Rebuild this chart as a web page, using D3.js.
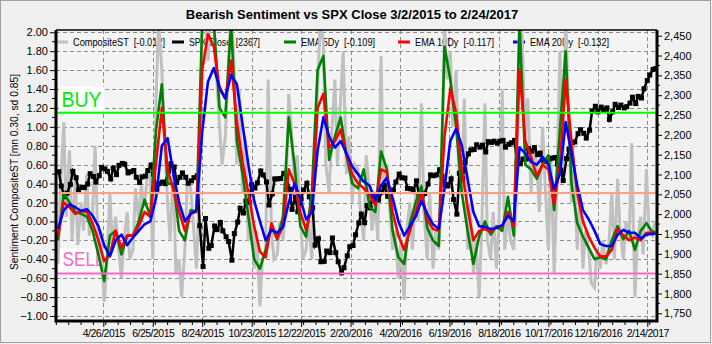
<!DOCTYPE html>
<html>
<head>
<meta charset="utf-8">
<script src="https://cdn.jsdelivr.net/npm/d3@7"></script>
<style>
  body { margin: 0; background: #f0f0f0; }
  text { font-family: Arial, "Liberation Sans", sans-serif; }
</style>
</head>
<body>
<svg id="chart" width="712" height="344"></svg>
<script>
// ---- data ----
const chartTitle = "Bearish Sentiment vs SPX Close 3/2/2015 to 2/24/2017";
const yTitle = "Sentiment CompositeST [mn 0.30, sd 0.85]";
const seriesNames = ["CompositeST", "SPX Close", "EMA 5Dy", "EMA 10Dy", "EMA 20Dy"];
const legendValues = ["[-0.012]", "[2367]", "[-0.109]", "[-0.117]", "[-0.132]"];
const seriesColors = ["#c0c0c0", "#000000", "#008000", "#ff0000", "#0000ff"];

const leftTicks = [-1.0, -0.8, -0.6, -0.4, -0.2, 0.0, 0.2, 0.4, 0.6, 0.8, 1.0, 1.2, 1.4, 1.6, 1.8, 2.0];
const rightTicks = [1750, 1800, 1850, 1900, 1950, 2000, 2050, 2100, 2150, 2200, 2250, 2300, 2350, 2400, 2450];
const xTickLabels = ["4/26/2015", "6/25/2015", "8/24/2015", "10/23/2015", "12/22/2015", "2/20/2016",
  "4/20/2016", "6/19/2016", "8/18/2016", "10/17/2016", "12/16/2016", "2/14/2017"];

const buyLevel = 1.15, meanLevel = 0.30, sellLevel = -0.55;

// weekly EMA values, one per week starting Mon 3/2/2015, last one is 2/24/2017
const ema5 = [
  -0.20, 0.30, 0.20, 0.10, 0.08, 0.05, -0.10, -0.35, -0.63, -0.15,
  -0.10, -0.35, -0.15, -0.15, 0.00, 0.23, 0.05, 0.97, 1.45, 0.40,
  0.40, -0.10, -0.20, 0.12, 0.10, 2.10, 2.20, 2.10, 1.20, 1.10,
  2.10, 0.85, 0.50, 0.05, -0.40, -0.50, -0.30, -0.05, -0.19, 0.05,
  1.10, 0.60, -0.05, -0.16, 0.30, 1.60, 1.75, 0.65, 0.90, 1.10,
  0.70, 0.40, 0.35, 0.55, 0.15, 0.10, 0.74, 0.55, -0.10, -0.38,
  -0.45, -0.02, 0.20, 0.37, -0.07, -0.20, -0.26, 1.85, 1.50, 1.00,
  0.30, -0.10, -0.45, -0.16, 0.00, -0.14, -0.05, -0.10, 0.26, -0.15,
  2.10, 0.60, 0.55, 0.45, 0.60, 0.70, 0.12, 0.97, 1.80, 0.40,
  -0.02, -0.16, -0.28, -0.40, -0.38, -0.40, -0.20, -0.05, -0.19, -0.10,
  -0.30, -0.10, -0.02, -0.11, -0.109
];
const ema10 = [
  -0.16, 0.20, 0.15, 0.08, 0.11, 0.10, -0.02, -0.20, -0.42, -0.35,
  -0.10, -0.28, -0.15, -0.15, -0.05, 0.10, 0.05, 0.62, 1.20, 0.55,
  0.33, 0.10, -0.10, 0.09, 0.10, 1.60, 1.98, 1.85, 1.40, 1.30,
  1.70, 1.05, 0.62, 0.30, -0.05, -0.32, -0.38, -0.02, -0.18, -0.05,
  0.55, 0.40, 0.10, -0.09, 0.15, 1.20, 1.35, 0.78, 0.85, 0.97,
  0.70, 0.50, 0.40, 0.35, 0.28, 0.17, 0.55, 0.52, 0.10, -0.15,
  -0.30, -0.10, 0.10, 0.30, 0.02, -0.08, -0.10, 0.90, 1.40, 1.15,
  0.55, 0.15, -0.20, -0.10, -0.08, -0.11, -0.06, -0.05, 0.10, -0.05,
  1.60, 0.85, 0.68, 0.48, 0.60, 0.55, 0.18, 0.60, 1.50, 0.85,
  0.30, 0.00, -0.16, -0.28, -0.37, -0.37, -0.30, -0.08, -0.15, -0.20,
  -0.17, -0.20, -0.12, -0.12, -0.117
];
const ema20 = [
  -0.08, 0.12, 0.18, 0.15, 0.11, 0.13, 0.06, -0.05, -0.25, -0.37,
  -0.20, -0.14, -0.25, -0.17, -0.10, -0.03, 0.00, 0.25, 0.80, 0.88,
  0.50, 0.20, 0.00, 0.08, 0.12, 0.95, 1.48, 1.62, 1.42, 1.30,
  1.55, 1.45, 1.02, 0.60, 0.22, 0.00, -0.20, -0.09, -0.12, -0.06,
  0.20, 0.40, 0.25, 0.02, 0.10, 0.75, 1.10, 0.90, 0.78, 0.85,
  0.72, 0.58, 0.50, 0.42, 0.38, 0.22, 0.38, 0.46, 0.25, 0.00,
  -0.15, -0.05, 0.05, 0.22, 0.08, -0.03, -0.08, 0.35, 0.85, 0.98,
  0.80, 0.45, 0.10, -0.05, -0.06, -0.08, -0.07, -0.04, 0.06, 0.00,
  0.78, 0.72, 0.63, 0.60, 0.68, 0.60, 0.34, 0.50, 1.05, 0.72,
  0.38, 0.12, 0.02, -0.10, -0.24, -0.26, -0.26, -0.14, -0.09, -0.12,
  -0.12, -0.18, -0.14, -0.13, -0.132
];

// CompositeST, two readings per week (Mon, Thu), last one is 2/24/2017
const composite = [
  -0.45, 0.35, 1.05, 0.05, 0.75, -0.20, 0.45, -0.25, 0.20, -0.10,
  0.50, -0.15, 0.10, 0.80, -0.40, -0.10, -0.85, -0.50, 0.30, -0.30,
  0.05, -0.25, -0.60, -0.20, 0.10, -0.40, -0.30, 0.35, 0.00, 0.40,
  0.15, 0.45, 0.55, -0.40, 1.30, 2.10, 1.60, 0.90, 0.20, -0.20,
  0.55, -0.55, -0.40, -0.80, -0.30, 0.45, 0.35, 0.00, -0.50, 0.20,
  2.10, 2.30, 1.70, 2.20, 2.20, 1.60, 1.00, 0.60, 0.90, 1.50,
  2.20, 1.80, 0.60, 1.40, 0.30, 0.90, -0.20, 0.40, -0.50, -0.10,
  -0.90, -0.40, -0.30, 1.50, -0.10, -0.40, -0.35, 0.00, -0.20, 0.10,
  1.35, 1.00, 0.35, 0.70, 0.10, -0.40, -0.30, 0.00, -0.40, 0.55,
  1.40, 2.10, 1.90, 0.60, 0.30, 0.90, 1.50, 0.60, 1.30, 1.80,
  0.50, 0.90, 0.20, 0.60, 0.55, 0.10, -0.20, 0.70, 0.30, -0.10,
  0.20, -0.20, 1.75, 0.30, 0.60, 0.20, -0.30, -0.10, -0.60, -0.20,
  -0.83, -0.10, 0.20, -0.30, 0.30, 0.00, 1.25, 0.10, -0.40, 0.30,
  -0.50, -0.10, -0.30, 0.20, 2.10, 1.50, 1.80, 1.00, 1.60, 0.60,
  0.30, 1.30, -0.30, 0.20, -0.55, -0.20, -0.80, -0.10, 1.25, -0.20,
  -0.40, 0.10, -0.50, 0.00, 1.40, -0.30, 0.10, -0.20, -0.30, 0.20,
  2.20, 2.00, 0.90, 1.30, 0.30, 0.80, 0.60, 0.10, 1.00, 0.40,
  -0.30, 0.70, -0.55, 0.30, 1.80, 0.40, 2.20, 1.30, 0.20, 0.60,
  -0.30, 0.30, -0.50, -0.10, -0.30, -0.65, -0.70, -0.30, -0.50, -0.20,
  -0.45, -0.30, 0.30, -0.40, 0.45, -0.10, -0.40, 0.00, -0.20, 0.83,
  -0.80, -0.20, 0.05, -0.35, 0.55, -0.10, -0.15, -0.01, -0.012
];

// SPX close, two per week (Tue, Fri)
const spxClose = [
  2107, 2071, 2044, 2053, 2075, 2108, 2092, 2061, 2068, 2067,
  2076, 2102, 2095, 2081, 2097, 2118, 2114, 2108, 2089, 2116,
  2100, 2123, 2128, 2126, 2104, 2107, 2110, 2093, 2080, 2094,
  2096, 2110, 2124, 2101, 2063, 2077, 2081, 2077, 2108, 2127,
  2119, 2080, 2093, 2104, 2093, 2078, 2084, 2092, 2097, 1971,
  1868, 1989, 1914, 1921, 1970, 1961, 1979, 1958, 1943, 1931,
  1884, 1951, 1980, 2015, 2003, 2033, 2030, 2075, 2066, 2079,
  2109, 2099, 2081, 2023, 2051, 2089, 2089, 2090, 2103, 2092,
  2063, 2012, 2043, 2006, 2038, 2061, 2078, 2044,
  2016, 1922, 1938, 1880, 1881, 1907, 1903, 1940, 1903, 1880,
  1852, 1865, 1895, 1918, 1921, 1948, 1978, 2000, 1979, 2022,
  2016, 2050, 2049, 2036, 2056, 2073, 2045, 2048, 2061, 2081,
  2101, 2092, 2091, 2065, 2064, 2057, 2084, 2047, 2048, 2052,
  2076, 2099, 2097, 2099, 2112, 2096, 2075, 2071, 2089, 2037,
  2000, 2103, 2089, 2130, 2152, 2162, 2163, 2175, 2169, 2174,
  2157, 2183, 2181, 2184, 2179, 2184, 2186, 2169, 2176, 2180,
  2186, 2128, 2127, 2139, 2139, 2165, 2159, 2168, 2150, 2154,
  2136, 2133, 2139, 2141, 2143, 2126, 2111, 2085, 2140, 2164,
  2180, 2182, 2203, 2213, 2204, 2192, 2212, 2260, 2272, 2258,
  2270, 2264, 2268, 2239,
  2258, 2277, 2269, 2275, 2268, 2271, 2280, 2295, 2279, 2297,
  2293, 2316, 2337, 2351, 2365, 2367
];

// ---- dates ----
const DAY = 864e5;
const firstMonday = Date.UTC(2015, 2, 2);
const lastDay = new Date(Date.UTC(2017, 1, 24));
const weekDates = d3.range(104).map(i => new Date(firstMonday + 7 * i * DAY)).concat([lastDay]);
const compDates = d3.range(104).flatMap(i => [new Date(firstMonday + 7 * i * DAY), new Date(firstMonday + (7 * i + 3) * DAY)]).concat([lastDay]);
const spxDates = d3.range(104).flatMap(i => [new Date(firstMonday + (7 * i + 1) * DAY), new Date(firstMonday + (7 * i + 4) * DAY)]);
const parseMDY = s => { const [m, d, y] = s.split("/").map(Number); return new Date(Date.UTC(y, m - 1, d)); };
const tickDates = xTickLabels.map(parseMDY);

// ---- layout ----
const svg = d3.select("#chart");
const W = 712, H = 344;
const plot = { left: 56, right: 657, top: 30, bottom: 321 };

const x = d3.scaleUtc()
  .domain([new Date(Date.UTC(2015, 1, 27, 14)), new Date(Date.UTC(2017, 1, 25, 19))])
  .range([plot.left, plot.right]);
const yL = d3.scaleLinear().domain([-1.053, 2.024]).range([plot.bottom, plot.top]);
const yR = d3.scaleLinear().domain([1730.6, 2464.4]).range([plot.bottom, plot.top]);

svg.append("rect").attr("width", W).attr("height", H).attr("fill", "#f0f0f0");
svg.append("rect").attr("x", 0.5).attr("y", 0.5).attr("width", W - 2).attr("height", H - 2)
  .attr("fill", "none").attr("stroke", "#a0a0a0");
svg.append("rect").attr("x", plot.left).attr("y", plot.top)
  .attr("width", plot.right - plot.left).attr("height", plot.bottom - plot.top).attr("fill", "#f4f4f4");

svg.append("defs").append("clipPath").attr("id", "clip")
  .append("rect").attr("x", plot.left).attr("y", plot.top)
  .attr("width", plot.right - plot.left).attr("height", plot.bottom - plot.top);

// grid
const grid = svg.append("g").attr("stroke", "#8c8c8c").attr("stroke-dasharray", "4,3").attr("stroke-width", 1);
grid.selectAll(".h").data(leftTicks).join("line")
  .attr("x1", plot.left).attr("x2", plot.right)
  .attr("y1", d => Math.round(yL(d)) + 0.5).attr("y2", d => Math.round(yL(d)) + 0.5);
grid.selectAll(".v").data(tickDates).join("line")
  .attr("y1", plot.top).attr("y2", plot.bottom)
  .attr("x1", d => Math.round(x(d)) + 0.5).attr("x2", d => Math.round(x(d)) + 0.5);

// legend (sits under the data)
const legendX = [56, 172, 284, 398, 513];
const legendW = [92, 71, 74, 79, 79];
const legend = svg.append("g").attr("font-size", 11);
seriesNames.forEach((name, i) => {
  legend.append("line").attr("x1", legendX[i]).attr("x2", legendX[i] + 12)
    .attr("y1", 42).attr("y2", 42).attr("stroke", seriesColors[i]).attr("stroke-width", 3);
  legend.append("text").attr("x", legendX[i] + 17).attr("y", 46)
    .attr("textLength", legendW[i]).attr("lengthAdjust", "spacingAndGlyphs")
    .style("white-space", "pre").text(name + "  " + legendValues[i]);
});

// BUY / SELL labels (under the data)
const tagBuy = svg.append("g");
tagBuy.append("rect").attr("x", 59).attr("y", yL(buyLevel) - 26).attr("width", 45).attr("height", 24).attr("fill", "#fff");
tagBuy.append("text").attr("x", 61.5).attr("y", yL(buyLevel) - 6).attr("font-size", 22)
  .attr("textLength", 40).attr("lengthAdjust", "spacingAndGlyphs").attr("fill", "#00ee00").text("BUY");
const tagSell = svg.append("g");
tagSell.append("rect").attr("x", 59).attr("y", yL(sellLevel) - 25).attr("width", 48).attr("height", 22).attr("fill", "#fff");
tagSell.append("text").attr("x", 62.5).attr("y", yL(sellLevel) - 7).attr("font-size", 20)
  .attr("textLength", 42).attr("lengthAdjust", "spacingAndGlyphs").attr("fill", "#ff66cc").text("SELL");

// data
const data = svg.append("g").attr("clip-path", "url(#clip)");
const lineL = d3.line().x(d => x(d[0])).y(d => yL(d[1]));
data.append("path").datum(d3.zip(compDates, composite))
  .attr("fill", "none").attr("stroke", seriesColors[0]).attr("stroke-width", 3).attr("d", lineL);

const spxPts = d3.zip(spxDates, spxClose);
data.append("path").datum(spxPts)
  .attr("fill", "none").attr("stroke", "#000").attr("stroke-width", 2.5)
  .attr("d", d3.line().x(d => x(d[0])).y(d => yR(d[1])));
data.selectAll(".mk").data(spxPts).join("rect")
  .attr("x", d => x(d[0]) - 2.5).attr("y", d => yR(d[1]) - 2.5)
  .attr("width", 5).attr("height", 5).attr("fill", "#000");

[ema5, ema10, ema20].forEach((vals, i) => {
  data.append("path").datum(d3.zip(weekDates, vals))
    .attr("fill", "none").attr("stroke", seriesColors[i + 2]).attr("stroke-width", 2.6)
    .attr("stroke-linejoin", "round").attr("d", lineL);
});

// threshold lines
const levels = [[buyLevel, "#00ff00"], [meanLevel, "#ffa080"], [sellLevel, "#ff66cc"]];
svg.append("g").selectAll("line").data(levels).join("line")
  .attr("x1", plot.left).attr("x2", plot.right)
  .attr("y1", d => yL(d[0])).attr("y2", d => yL(d[0]))
  .attr("stroke", d => d[1]).attr("stroke-width", 2);

// axes
const axisL = svg.append("g").attr("transform", `translate(${plot.left - 1},0)`)
  .call(d3.axisLeft(yL).tickValues(leftTicks).tickFormat(d3.format(".2f")).tickSize(5).tickPadding(2));
const axisR = svg.append("g").attr("transform", `translate(${plot.right},0)`)
  .call(d3.axisRight(yR).tickValues(rightTicks).tickFormat(d3.format(",")).tickSize(5).tickPadding(2));
const axisB = svg.append("g").attr("transform", `translate(0,${plot.bottom + 1})`)
  .call(d3.axisBottom(x).tickValues(tickDates).tickFormat((d, i) => xTickLabels[i]).tickSize(5).tickPadding(3));
[axisL, axisR, axisB].forEach(a => {
  a.select(".domain").remove();
  a.selectAll("text").attr("font-size", 11).attr("fill", "#000");
  a.selectAll("line").attr("stroke", "#000");
});
axisB.selectAll("text").attr("font-size", 10.5).attr("letter-spacing", "-0.5px");

// minor ticks
const minorL = d3.range(-1.0, 2.0, 0.1).filter((d, i) => i % 2 === 1);
svg.append("g").selectAll("line").data(minorL).join("line")
  .attr("x1", plot.left - 4).attr("x2", plot.left - 1)
  .attr("y1", d => yL(d)).attr("y2", d => yL(d)).attr("stroke", "#000");
const minorR = d3.range(1775, 2460, 50);
svg.append("g").selectAll("line").data(minorR).join("line")
  .attr("x1", plot.right).attr("x2", plot.right + 3)
  .attr("y1", d => yR(d)).attr("y2", d => yR(d)).attr("stroke", "#000");
svg.append("g").selectAll("line").data(d3.utcDay.range(x.domain()[0], x.domain()[1], 15)).join("line")
  .attr("x1", d => x(d)).attr("x2", d => x(d))
  .attr("y1", plot.bottom + 1).attr("y2", plot.bottom + 4).attr("stroke", "#000");

// plot frame
svg.append("path")
  .attr("d", `M${plot.left},${plot.top}H${plot.right}`).attr("stroke", "#000").attr("stroke-width", 1.5);
svg.append("path")
  .attr("d", `M${plot.left},${plot.top}V${plot.bottom}H${plot.right}V${plot.top}`)
  .attr("fill", "none").attr("stroke", "#000").attr("stroke-width", 3);

// titles
svg.append("text").attr("x", 352).attr("y", 19).attr("text-anchor", "middle")
  .attr("font-size", 13).attr("font-weight", "bold").text(chartTitle);
svg.append("text").attr("transform", `translate(18,172) rotate(-90)`).attr("text-anchor", "middle")
  .attr("font-size", 11.5).attr("textLength", 196).attr("lengthAdjust", "spacingAndGlyphs").text(yTitle);
</script>
</body>
</html>
